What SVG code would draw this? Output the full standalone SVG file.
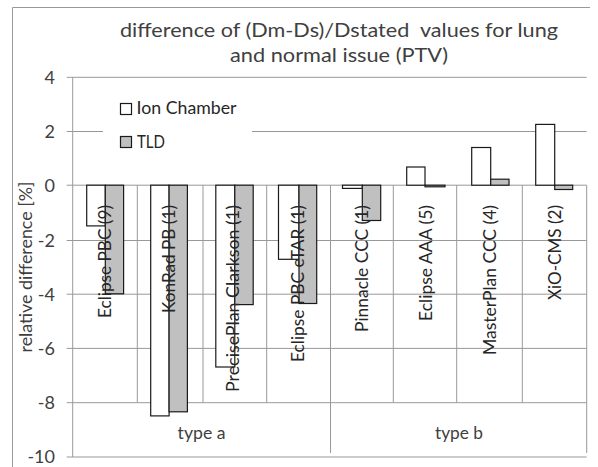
<svg xmlns="http://www.w3.org/2000/svg" width="598" height="467" viewBox="0 0 598 467">
<style>
text{font-family:Lato,"Liberation Sans",sans-serif;fill:#262626}
.grid{stroke:#999;stroke-width:1;fill:none}
.frame{stroke:#999;stroke-width:1;fill:none}
.ic{fill:#fff;stroke:#1a1a1a;stroke-width:1.2}
.tld{fill:#c0c0c0;stroke:#1a1a1a;stroke-width:1.2}
.ttl{font-size:19px;fill:#404040;text-anchor:middle}
.ax{font-size:18px;fill:#404040;text-anchor:end}
.cat{font-size:18px;text-anchor:end}
.grp{font-size:18px;fill:#404040;text-anchor:middle}
.lg{font-size:17px}
</style>
<rect width="598" height="467" fill="#fff"/>
<path class="frame" d="M12.5,467 V7.5 H590"/>
<g id="title">
<text class="ttl" x="339" y="36.5" textLength="438" lengthAdjust="spacingAndGlyphs" style="white-space:pre">difference of (Dm-Ds)/Dstated  values for lung</text>
<text class="ttl" x="339" y="62" textLength="218" lengthAdjust="spacingAndGlyphs">and normal issue (PTV)</text>
</g>
<g id="grid">
<path class="grid" d="M66.7,77.3H586.7 M66.7,131.5H586.7 M66.7,185.2H586.7 M66.7,240.5H586.7 M66.7,294.2H586.7 M66.7,348.4H586.7 M66.7,402.7H586.7 M66.7,457H586.7"/>
<path class="grid" d="M72.7,77.3V457 M137.3,185.2V402.7 M203,185.2V402.7 M266.7,185.2V402.7 M330.5,185.2V453 M393.3,185.2V402.7 M456.7,185.2V402.7 M522.3,185.2V402.7 M586.7,185.2V453"/>
</g>
<g id="axis-labels">
<text class="ax" x="55" y="83.5">4</text>
<text class="ax" x="55" y="137.5">2</text>
<text class="ax" x="55" y="191.5">0</text>
<text class="ax" x="55" y="246.5">-2</text>
<text class="ax" x="55" y="300.5">-4</text>
<text class="ax" x="55" y="354.5">-6</text>
<text class="ax" x="55" y="409">-8</text>
<text class="ax" x="55" y="463">-10</text>
<text class="grp" transform="translate(32,267) rotate(-90)" textLength="171" lengthAdjust="spacingAndGlyphs">relative difference [%]</text>
</g>
<g id="legend">
<rect x="103" y="92" width="149" height="66" fill="#fff"/>
<rect class="ic" x="120.5" y="103.5" width="11" height="11"/>
<text class="lg" x="136.5" y="114" textLength="100" lengthAdjust="spacingAndGlyphs">Ion Chamber</text>
<rect class="tld" x="120.5" y="136.5" width="11" height="11"/>
<text class="lg" x="137" y="147.5" textLength="28" lengthAdjust="spacingAndGlyphs">TLD</text>
</g>
<g id="bars">
<rect class="ic" x="86.7" y="185.2" width="18.6" height="40.7"/>
<rect class="tld" x="105.3" y="185.2" width="18.3" height="108.6"/>
<rect class="ic" x="150.7" y="185.2" width="18.4" height="230.7"/>
<rect class="tld" x="169.1" y="185.2" width="18.3" height="226.6"/>
<rect class="ic" x="215.8" y="185.2" width="19" height="181.8"/>
<rect class="tld" x="234.8" y="185.2" width="18.4" height="119.4"/>
<rect class="ic" x="278.5" y="185.2" width="20.5" height="74.1"/>
<rect class="tld" x="299" y="185.2" width="17.7" height="118.3"/>
<rect class="ic" x="342.5" y="185.2" width="19.8" height="3.2"/>
<rect class="tld" x="362.3" y="185.2" width="18.4" height="35.3"/>
<rect class="ic" x="406.7" y="167" width="18.3" height="18.2"/>
<rect class="tld" x="425" y="185.2" width="20" height="1.6"/>
<rect class="ic" x="471.7" y="147.5" width="19" height="37.7"/>
<rect class="tld" x="490.7" y="179.2" width="18.3" height="6"/>
<rect class="ic" x="535.7" y="124.4" width="19" height="60.8"/>
<rect class="tld" x="554.7" y="185.2" width="18" height="4.3"/>
</g>
<g id="categories">
<text class="cat" transform="translate(104.8,205) rotate(-90)" dy="6" textLength="113" lengthAdjust="spacingAndGlyphs">Eclipse PBC (9)</text>
<text class="cat" transform="translate(169.1,205) rotate(-90)" dy="6" textLength="108" lengthAdjust="spacingAndGlyphs">KonRad PB (1)</text>
<text class="cat" transform="translate(233.3,205) rotate(-90)" dy="6" textLength="187" lengthAdjust="spacingAndGlyphs">PrecisePlan Clarkson (1)</text>
<text class="cat" transform="translate(297.6,205) rotate(-90)" dy="6" textLength="157" lengthAdjust="spacingAndGlyphs">Eclipse PBC eTAR (1)</text>
<text class="cat" transform="translate(361.8,205) rotate(-90)" dy="6" textLength="127" lengthAdjust="spacingAndGlyphs">Pinnacle CCC (1)</text>
<text class="cat" transform="translate(426.1,205) rotate(-90)" dy="6" textLength="116" lengthAdjust="spacingAndGlyphs">Eclipse AAA (5)</text>
<text class="cat" transform="translate(490.3,205) rotate(-90)" dy="6" textLength="150" lengthAdjust="spacingAndGlyphs">MasterPlan CCC (4)</text>
<text class="cat" transform="translate(554.6,205) rotate(-90)" dy="6" textLength="95" lengthAdjust="spacingAndGlyphs">XiO-CMS (2)</text>
<text class="grp" x="201.6" y="438.5" textLength="48" lengthAdjust="spacingAndGlyphs">type a</text>
<text class="grp" x="459" y="438.5" textLength="48" lengthAdjust="spacingAndGlyphs">type b</text>
</g>
</svg>
